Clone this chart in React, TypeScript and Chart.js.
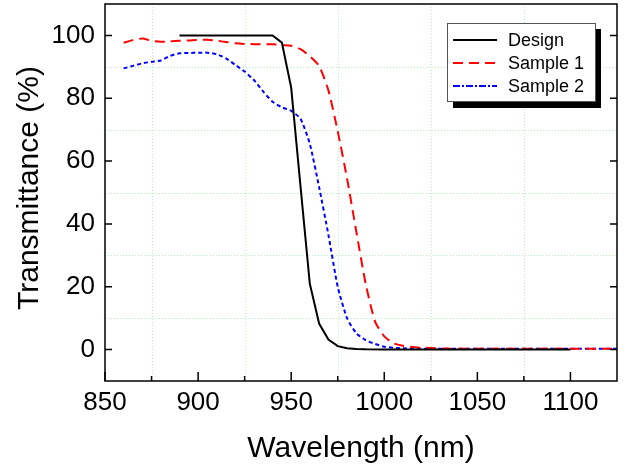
import React, { useEffect, useRef } from "react";
import { Chart, registerables } from "chart.js";

Chart.register(...registerables);

// ---- Data ----
const designWl = [890, 940, 945, 950, 955, 960, 965, 970, 975, 980, 985, 990, 1000, 1050, 1100];
const designT = [100, 100, 97.7, 83.4, 52, 21, 8.3, 3.2, 1.1, 0.4, 0.2, 0.1, 0.05, 0, 0];

const sampleWl = [
  860, 865, 870, 875, 880, 885, 890, 895, 900, 905, 910, 915, 920, 925, 930, 935, 940, 945,
  950, 955, 960, 965, 970, 975, 980, 985, 990, 995, 1000, 1005, 1010, 1015, 1020, 1025, 1030,
  1035, 1040, 1045, 1050, 1055, 1060, 1065, 1070, 1075, 1080, 1085, 1090, 1095, 1100, 1105,
  1110, 1115, 1120, 1125,
];
const sample1T = [
  97.7, 98.5, 99.0, 98.3, 98.0, 98.1, 98.3, 98.4, 98.6, 98.6, 98.3, 97.9, 97.5, 97.3, 97.2,
  97.2, 97.2, 96.9, 96.7, 95.6, 93.4, 90.3, 82.5, 69.5, 54.5, 37.5, 21, 9, 4.2, 2.0, 1.2, 0.8,
  0.6, 0.5, 0.4, 0.3, 0.3, 0.3, 0.3, 0.3, 0.3, 0.3, 0.3, 0.3, 0.3, 0.3, 0.3, 0.3, 0.3, 0.3,
  0.3, 0.3, 0.3, 0.3,
];
const sample2T = [
  89.5, 90.3, 91.1, 91.6, 92.0, 93.5, 94.3, 94.4, 94.5, 94.5, 94.0, 92.7, 90.6, 88.5, 85.8,
  82.1, 78.9, 77.1, 76.0, 73.5, 65.5, 51.7, 36.5, 20.0, 10.0, 5.2, 3.0, 1.8, 0.9, 0.6, 0.4,
  0.35, 0.3, 0.3, 0.3, 0.3, 0.3, 0.3, 0.3, 0.3, 0.3, 0.3, 0.3, 0.3, 0.3, 0.3, 0.3, 0.3, 0.3,
  0.3, 0.3, 0.3, 0.3, 0.3,
];

const seriesLabels = ["Design", "Sample 1", "Sample 2"];
const xMajorTicks = [850, 900, 950, 1000, 1050, 1100];
const xMinorTicks = [875, 925, 975, 1025, 1075];
const yMajorTicks = [0, 20, 40, 60, 80, 100];
const yMinorTicks = [10, 30, 50, 70, 90];

const FONT = '"Liberation Sans", Arial, Helvetica, sans-serif';
const COLORS = ["#000000", "#ff0000", "#0000ff"];

const decorPlugin = {
  id: "decor",
  beforeDatasetsDraw(chart: any) {
    const { ctx, chartArea: a, scales } = chart;
    const xs = scales.x;
    const ys = scales.y;
    ctx.save();
    ctx.strokeStyle = "rgba(175, 240, 175, 0.9)";
    ctx.lineWidth = 1;
    ctx.setLineDash([1, 2]);
    xMinorTicks.forEach((v) => {
      const px = Math.round(xs.getPixelForValue(v)) + 0.5;
      ctx.beginPath();
      ctx.moveTo(px, a.top);
      ctx.lineTo(px, a.bottom);
      ctx.stroke();
    });
    yMinorTicks.forEach((v) => {
      const py = Math.round(ys.getPixelForValue(v)) + 0.5;
      ctx.beginPath();
      ctx.moveTo(a.left, py);
      ctx.lineTo(a.right, py);
      ctx.stroke();
    });
    ctx.restore();
  },
  afterDatasetsDraw(chart: any) {
    const { ctx, chartArea: a, scales } = chart;
    const xs = scales.x;
    const ys = scales.y;
    ctx.save();
    // frame
    ctx.strokeStyle = "#000";
    ctx.lineWidth = 1.5;
    ctx.setLineDash([]);
    ctx.strokeRect(a.left, a.top, a.right - a.left, a.bottom - a.top);
    // ticks
    ctx.lineWidth = 1.5;
    ctx.beginPath();
    xMajorTicks.forEach((v) => {
      const px = xs.getPixelForValue(v);
      ctx.moveTo(px, a.bottom);
      ctx.lineTo(px, a.bottom - 9);
    });
    xMinorTicks.forEach((v) => {
      const px = xs.getPixelForValue(v);
      ctx.moveTo(px, a.bottom);
      ctx.lineTo(px, a.bottom - 5);
    });
    yMajorTicks.forEach((v) => {
      const py = ys.getPixelForValue(v);
      ctx.moveTo(a.left, py);
      ctx.lineTo(a.left + 7, py);
      ctx.moveTo(a.right, py);
      ctx.lineTo(a.right - 7, py);
    });
    ctx.stroke();

    // legend
    const bx = 447, by = 23, bw = 148, bh = 78;
    ctx.fillStyle = "#000";
    ctx.fillRect(bx + 6, by + 6, bw, bh + 1);
    ctx.fillStyle = "#fff";
    ctx.fillRect(bx, by, bw, bh);
    ctx.strokeStyle = "#555";
    ctx.lineWidth = 1;
    ctx.strokeRect(bx + 0.5, by + 0.5, bw, bh);
    const rows = [40, 63, 86];
    const dashes = [[], [10, 6], [7, 2, 2, 2]];
    seriesLabels.forEach((lab, i) => {
      ctx.strokeStyle = COLORS[i];
      ctx.lineWidth = 2;
      ctx.setLineDash(dashes[i]);
      ctx.beginPath();
      ctx.moveTo(453, rows[i]);
      ctx.lineTo(497, rows[i]);
      ctx.stroke();
      ctx.setLineDash([]);
      ctx.fillStyle = "#000";
      ctx.font = `18px ${FONT}`;
      ctx.textAlign = "left";
      ctx.textBaseline = "middle";
      ctx.fillText(lab, 508, rows[i] + 1);
    });

    // axis titles
    ctx.fillStyle = "#000";
    ctx.font = `30px ${FONT}`;
    ctx.textAlign = "center";
    ctx.textBaseline = "alphabetic";
    ctx.fillText("Wavelength (nm)", (a.left + a.right) / 2, 457);
    ctx.save();
    ctx.translate(30, 188);
    ctx.rotate(-Math.PI / 2);
    ctx.textBaseline = "middle";
    ctx.fillText("Transmittance (%)", 0, 0);
    ctx.restore();
    ctx.restore();
  },
};

export default function App() {
  const ref = useRef<HTMLCanvasElement | null>(null);
  useEffect(() => {
    document.body.style.margin = "0";
    const canvas = ref.current;
    if (!canvas) return;
    const chart = new Chart(canvas, {
      type: "line",
      data: {
        datasets: [
          {
            label: seriesLabels[0],
            data: designWl.map((x, i) => ({ x, y: designT[i] })),
            borderColor: COLORS[0],
            borderWidth: 2,
            pointRadius: 0,
            fill: false,
            tension: 0,
          },
          {
            label: seriesLabels[1],
            data: sampleWl.map((x, i) => ({ x, y: sample1T[i] })),
            borderColor: COLORS[1],
            borderWidth: 2,
            borderDash: [10, 6],
            pointRadius: 0,
            fill: false,
            tension: 0.2,
          },
          {
            label: seriesLabels[2],
            data: sampleWl.map((x, i) => ({ x, y: sample2T[i] })),
            borderColor: COLORS[2],
            borderWidth: 2,
            borderDash: [4, 3],
            pointRadius: 0,
            fill: false,
            tension: 0.2,
          },
        ],
      },
      options: {
        animation: false,
        responsive: true,
        maintainAspectRatio: false,
        layout: { padding: { top: 4, right: 10, left: 0, bottom: 0 } },
        plugins: { legend: { display: false }, tooltip: { enabled: false } },
        scales: {
          x: {
            type: "linear",
            min: 850,
            max: 1125,
            grid: { display: false, drawTicks: false },
            border: { display: false },
            afterBuildTicks: (s: any) => {
              s.ticks = xMajorTicks.map((v) => ({ value: v }));
            },
            afterFit: (s: any) => {
              s.height = 86;
              s.paddingLeft = 0;
              s.paddingRight = 0;
              s.paddingTop = 0;
              s.paddingBottom = 0;
            },
            ticks: {
              font: { family: FONT, size: 26 },
              color: "#000",
              padding: 6,
              maxRotation: 0,
              autoSkip: false,
              callback: (v: any) => String(v),
            },
          },
          y: {
            type: "linear",
            min: -10,
            max: 110,
            grid: { display: false, drawTicks: false },
            border: { display: false },
            afterBuildTicks: (s: any) => {
              s.ticks = yMajorTicks.map((v) => ({ value: v }));
            },
            afterFit: (s: any) => {
              s.width = 105;
              s.paddingLeft = 0;
              s.paddingRight = 0;
              s.paddingTop = 0;
              s.paddingBottom = 0;
            },
            ticks: {
              font: { family: FONT, size: 26 },
              color: "#000",
              padding: 10,
              autoSkip: false,
              callback: (v: any) => String(v),
            },
          },
        },
      },
      plugins: [decorPlugin],
    });
    return () => chart.destroy();
  }, []);
  return (
    <div style={{ width: 627, height: 467, position: "relative" }}>
      <canvas ref={ref} />
    </div>
  );
}
